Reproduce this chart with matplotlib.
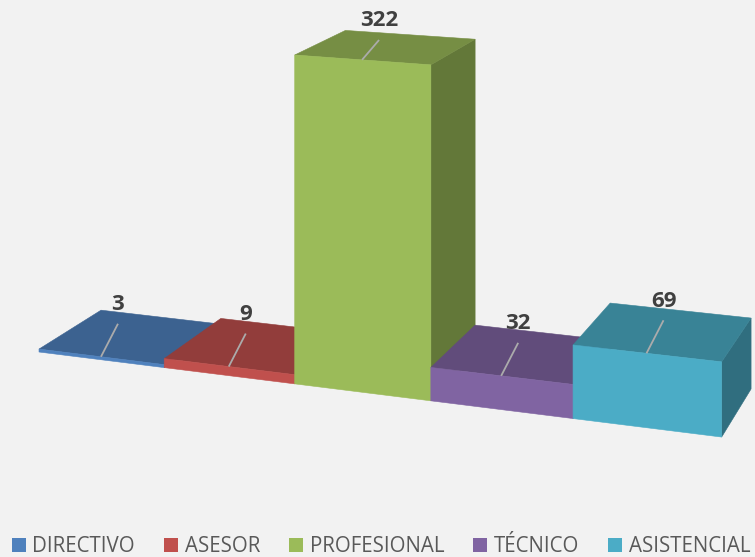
import numpy as np
import matplotlib
matplotlib.use("Agg")
import matplotlib.pyplot as plt
from matplotlib.patches import Polygon, Patch

plt.rcParams['font.family'] = ['Open Sans', 'DejaVu Sans']

# ---- data ----
categories = ['DIRECTIVO', 'ASESOR', 'PROFESIONAL', 'TÉCNICO', 'ASISTENCIAL']
values = [3, 9, 322, 32, 69]
colors = ['#4F81BD', '#C0504D', '#9BBB59', '#8064A2', '#4BACC6']

# ---- 3d camera (Excel-like perspective, vertical edges stay vertical) ----
FOCAL = 2337.0
U0 = 377.0          # principal point, x
HORIZON = -400.0    # horizon line, y (above the picture)
CAM_H = 5.451       # camera height above floor
PHI = np.arctan(-0.3667)
X0, Z0 = -2.45, 16.94
DEPTH = 0.988       # bar depth, in bar widths
HEIGHT_PER_UNIT = 2.287 / 322


def project(X, Y, Z):
    xc = X0 + X * np.cos(PHI) - Y * np.sin(PHI)
    zc = Z0 + X * np.sin(PHI) + Y * np.cos(PHI)
    u = U0 + FOCAL * xc / zc
    v = HORIZON + FOCAL * (CAM_H - Z) / zc
    return u, v


def shade(hex_color, k):
    rgb = np.array(matplotlib.colors.to_rgb(hex_color)) * k
    return tuple(np.clip(rgb, 0, 1))


def face(ax, pts, color):
    xy = [project(*p) for p in pts]
    ax.add_patch(Polygon(xy, closed=True, facecolor=color, edgecolor=color,
                         linewidth=0.4, antialiased=True))


W, H = 755, 557
fig = plt.figure(figsize=(W / 100, H / 100), dpi=100)
fig.patch.set_facecolor('#F2F2F2')
ax = fig.add_axes([0, 0, 1, 1])
ax.set_xlim(0, W)
ax.set_ylim(H, 0)
ax.axis('off')

# far bars first (left), nearer bars over them
for i, (val, col) in enumerate(zip(values, colors)):
    h = val * HEIGHT_PER_UNIT
    x1, x2 = i, i + 1
    face(ax, [(x2, 0, 0), (x2, DEPTH, 0), (x2, DEPTH, h), (x2, 0, h)], shade(col, 0.64))
    face(ax, [(x1, 0, h), (x2, 0, h), (x2, DEPTH, h), (x1, DEPTH, h)], shade(col, 0.76))
    face(ax, [(x1, 0, 0), (x2, 0, 0), (x2, 0, h), (x1, 0, h)], col)

# data labels with leader lines (label kept inside the chart area)
for i, val in enumerate(values):
    h = val * HEIGHT_PER_UNIT
    bx, by = project(i + 0.5, 0, h)
    lx = bx + 17
    ly = max(by - 52, 21)
    ax.plot([bx, lx], [by, ly + 19], color='#ABABAB', linewidth=1.3,
            solid_capstyle='butt')
    ax.text(lx, ly, str(val), ha='center', va='center', fontsize=16,
            fontweight='bold', color='#404040')

handles = [Patch(facecolor=c, edgecolor='none') for c in colors]
fig.legend(handles, categories, loc='center', ncol=5,
           bbox_to_anchor=(381 / W, 1 - 547 / H), frameon=False,
           fontsize=14.8, labelcolor='#595959', handlelength=0.68,
           handleheight=0.68, handletextpad=0.33, columnspacing=1.4,
           borderpad=0, borderaxespad=0)

fig.savefig('out.png', dpi=100, facecolor=fig.get_facecolor())
